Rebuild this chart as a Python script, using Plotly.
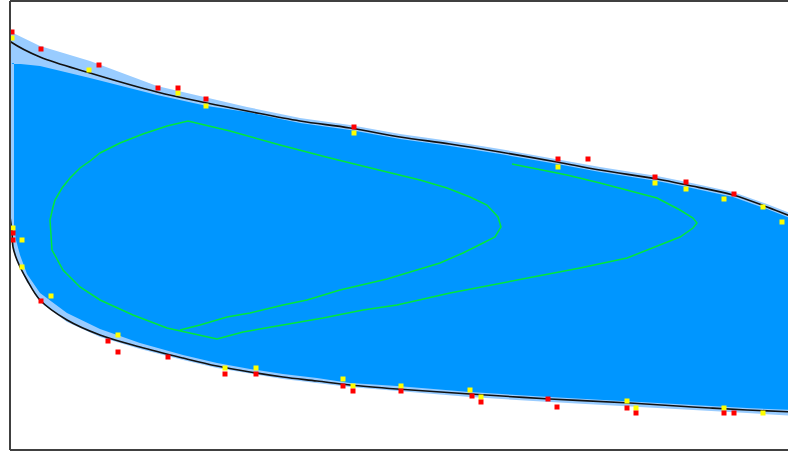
import plotly.graph_objects as go

# ---- nominal profile (black) ----
upper_x = [5, 11, 40, 90, 157, 207, 247, 300, 350, 400, 450, 500, 557, 600, 657, 687, 733, 767, 795]
upper_y = [37, 42, 57, 73, 92, 103, 111, 121, 128, 137, 144, 152, 162, 170, 179, 185, 195, 207, 218]
lower_x = [9, 12, 13, 17, 27, 40, 67, 100, 140, 183, 217, 250, 283, 317, 350, 397, 470, 550, 630, 677, 710, 747, 795]
lower_y = [210, 232, 247, 260, 280, 300, 320, 335, 347, 358, 366, 372, 377, 381, 385, 389, 394, 399, 403, 406, 408, 410, 412]

# ---- tolerance envelope (light blue) ----
env_x = [5, 11, 40, 90, 157, 207, 247, 300, 350, 400, 450, 500, 557, 600, 657, 687, 733, 767, 795,
         795, 747, 710, 677, 630, 550, 470, 397, 350, 283, 217, 183, 140, 100, 67, 40, 27, 17, 13, 12, 11, 5]
env_y = [30, 32, 46, 61, 86, 98, 107, 118, 125, 134, 141, 149, 159, 167, 176, 182, 192, 204, 215,
         416, 413, 411, 409, 406, 402, 397, 391, 387, 379, 368, 360, 349, 337, 322, 302, 282, 262, 249, 237, 225, 225]

# ---- measured section (dark blue) ----
sec_x = [5, 11, 40, 90, 157, 207, 247, 300, 350, 400, 450, 500, 557, 600, 657, 687, 733, 767, 795,
         795, 747, 710, 677, 630, 550, 470, 397, 350, 317, 283, 250, 217, 183, 140, 100, 67, 40, 27, 20, 16, 14, 14, 5]
sec_y = [63, 63, 66, 78, 95, 106, 112, 123, 130, 139, 146, 154, 164, 172, 181, 187, 197, 209, 220,
         410, 408, 406, 404, 401, 397, 392, 386, 383, 378, 374, 369, 363, 355, 343, 329, 313, 293, 274, 255, 240, 225, 63, 63]

# ---- camber / contour trace (green) ----
green_x = [512, 533, 567, 600, 633, 657, 680, 693, 697, 693, 680, 657, 627, 580, 500, 450, 397, 363, 323, 283, 243, 217,
           187, 177, 167, 133, 100, 80, 63, 52, 50, 53, 55, 62, 70, 80, 90, 100, 120, 143, 167, 188, 210, 230,
           280, 330, 387, 420, 447, 470, 487, 498, 501, 495, 483, 463, 440, 413, 387, 340, 307, 283, 250, 227, 200, 180]
green_y = [164, 168, 175, 183, 192, 198, 210, 218, 223, 228, 237, 246, 258, 268, 283, 293, 305, 310, 318, 325, 332, 339,
           332, 330, 328, 315, 300, 287, 270, 250, 220, 207, 200, 188, 178, 168, 161, 153, 143, 134, 126, 121, 126, 131,
           145, 158, 172, 180, 188, 197, 205, 217, 227, 237, 243, 253, 263, 271, 279, 290, 300, 305, 313, 317, 325, 330]

# ---- measured points ----
red_x = [12, 41, 99, 158, 178, 206, 354, 558, 588, 655, 686, 734,
         13, 13, 41, 108, 118, 168, 225, 256, 343, 353, 401, 472, 481, 548, 557, 627, 636, 724, 734]
red_y = [32, 49, 65, 88, 88, 99, 127, 159, 159, 177, 182, 194,
         233, 240, 301, 341, 352, 357, 374, 374, 386, 391, 391, 396, 402, 399, 407, 408, 413, 413, 413]
yel_x = [12, 89, 178, 206, 354, 558, 655, 686, 724, 763, 782,
         13, 22, 22, 51, 118, 225, 256, 343, 353, 401, 470, 481, 627, 636, 724, 763]
yel_y = [38, 70, 93, 106, 133, 167, 183, 189, 199, 207, 222,
         228, 240, 267, 296, 335, 368, 368, 379, 386, 386, 390, 397, 401, 408, 408, 413]

fig = go.Figure()
fig.add_trace(go.Scatter(x=env_x, y=env_y, fill="toself", fillcolor="#99CCFF",
                         line=dict(width=0, color="#99CCFF"), mode="lines", hoverinfo="skip"))
fig.add_trace(go.Scatter(x=sec_x, y=sec_y, fill="toself", fillcolor="#0096FF",
                         line=dict(width=0, color="#0096FF"), mode="lines", hoverinfo="skip"))
fig.add_trace(go.Scatter(x=green_x, y=green_y, mode="lines",
                         line=dict(color="#00E83A", width=1.5), hoverinfo="skip"))
fig.add_trace(go.Scatter(x=upper_x, y=upper_y, mode="lines", line_shape="spline",
                         line=dict(color="#111111", width=1.6), hoverinfo="skip"))
fig.add_trace(go.Scatter(x=lower_x, y=lower_y, mode="lines", line_shape="spline",
                         line=dict(color="#111111", width=1.6), hoverinfo="skip"))
fig.add_trace(go.Scatter(x=yel_x, y=yel_y, mode="markers",
                         marker=dict(symbol="square", size=5, color="#FFFF00", line=dict(width=0)),
                         hoverinfo="skip"))
fig.add_trace(go.Scatter(x=red_x, y=red_y, mode="markers",
                         marker=dict(symbol="square", size=5, color="#FF0000", line=dict(width=0)),
                         hoverinfo="skip"))

frame = dict(color="#404040", width=2)
fig.add_shape(type="line", xref="paper", yref="paper", x0=0, x1=0, y0=0, y1=1, line=frame, layer="above")
fig.add_shape(type="line", xref="paper", yref="paper", x0=0, x1=1, y0=1, y1=1, line=frame, layer="above")
fig.add_shape(type="line", xref="paper", yref="paper", x0=0, x1=1, y0=0, y1=0, line=frame, layer="above")

fig.update_layout(
    width=788, height=452,
    margin=dict(l=10, r=0, t=1, b=2),
    paper_bgcolor="white", plot_bgcolor="white",
    showlegend=False,
    xaxis=dict(range=[10, 788], visible=False, fixedrange=True),
    yaxis=dict(range=[450, 1], visible=False, fixedrange=True),
)
fig.write_html("out.html", config={"displayModeBar": False},
               post_script="document.body.style.margin='0px';document.body.style.overflow='hidden';")
